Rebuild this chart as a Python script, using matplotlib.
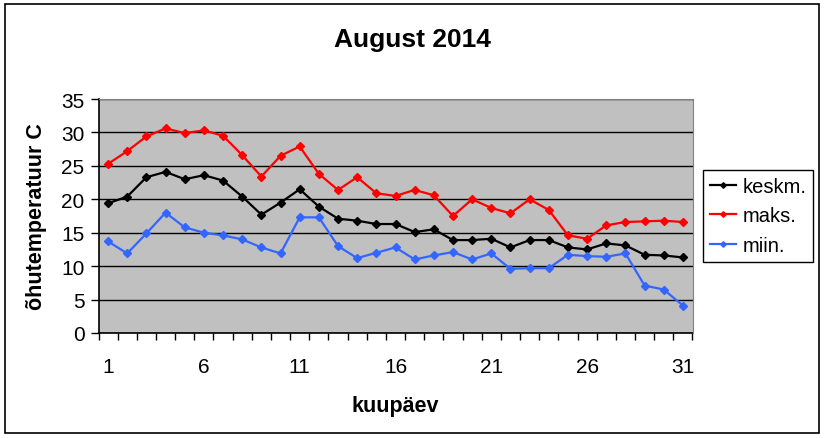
import numpy as np
import matplotlib.pyplot as plt
from matplotlib.patches import Rectangle

plt.rcParams['font.family'] = ['Liberation Sans', 'DejaVu Sans']

paevad = list(range(1, 32))
keskm = [19.4, 20.4, 23.3, 24.1, 23.0, 23.6, 22.8, 20.4, 17.7, 19.5,
         21.5, 18.9, 17.1, 16.8, 16.3, 16.3, 15.1, 15.5, 13.9, 13.9,
         14.1, 12.8, 13.9, 13.9, 12.8, 12.5, 13.4, 13.1, 11.7, 11.6, 11.3]
maks = [25.3, 27.2, 29.4, 30.6, 29.9, 30.3, 29.5, 26.6, 23.4, 26.5,
        27.9, 23.8, 21.4, 23.3, 20.9, 20.5, 21.4, 20.6, 17.5, 20.0,
        18.7, 17.9, 20.0, 18.4, 14.6, 14.1, 16.1, 16.6, 16.7, 16.8, 16.6]
miin = [13.7, 11.9, 14.9, 18.0, 15.8, 15.0, 14.6, 14.0, 12.8, 11.9,
        17.3, 17.3, 13.0, 11.2, 12.0, 12.8, 11.0, 11.6, 12.1, 11.0,
        11.9, 9.6, 9.7, 9.7, 11.7, 11.5, 11.4, 11.9, 7.1, 6.5, 4.1]
x_sildid = [1, 6, 11, 16, 21, 26, 31]
y_sildid = [0, 5, 10, 15, 20, 25, 30, 35]

W, H = 825, 439
fig = plt.figure(figsize=(W / 100, H / 100), dpi=100)
fig.patch.set_facecolor('white')

# raam ümber kogu pildi
fig.patches.append(Rectangle((5 / W, 5 / H), 814 / W, 429 / H, transform=fig.transFigure,
                             fill=False, edgecolor='black', linewidth=1.2))

ax = fig.add_axes([98.5 / W, (H - 334) / H, 594 / W, 234 / H])
ax.set_facecolor('#C0C0C0')

ax.plot(paevad, keskm, color='black', marker='D', markersize=4, linewidth=1.6, label='keskm.')
ax.plot(paevad, maks, color='#FF0000', marker='D', markersize=4, linewidth=1.6, label='maks.')
ax.plot(paevad, miin, color='#3366FF', marker='D', markersize=4, linewidth=1.6, label='miin.')

ax.set_xlim(0.5, 31.5)
ax.set_ylim(0, 35)
ax.set_yticks(y_sildid)
ax.yaxis.grid(True, color='black', linewidth=1)
ax.set_axisbelow(True)

ax.set_xticks(x_sildid)
ax.set_xticks(np.arange(0.5, 32, 1), minor=True)
ax.tick_params(axis='x', which='major', length=0, pad=17, labelsize=15)
ax.tick_params(axis='x', which='minor', length=5, direction='out', width=1)
ax.tick_params(axis='y', length=6, direction='out', width=1, labelsize=15, pad=4)

for s in ['top', 'right']:
    ax.spines[s].set_color('#808080')
for s in ['left', 'bottom']:
    ax.spines[s].set_color('black')
    ax.spines[s].set_linewidth(1.2)

ax.set_ylabel('õhutemperatuur C', fontsize=15.5, fontweight='bold', labelpad=10)
fig.text(395 / W, 1 - 412 / H, 'kuupäev', ha='center', va='baseline', fontsize=15.5, fontweight='bold')
fig.text(412 / W, 1 - 47.3 / H, 'August 2014', ha='center', va='baseline', fontsize=19, fontweight='bold')

leg = fig.legend(loc='center left', bbox_to_anchor=(703 / W, 1 - 217 / H), fontsize=14.5,
                 frameon=True, fancybox=False, edgecolor='black', framealpha=1,
                 handlelength=1.3, handletextpad=0.3, borderpad=0.35, labelspacing=0.5,
                 borderaxespad=0, markerscale=0.7)
leg.get_frame().set_linewidth(1)

fig.savefig('out.png', dpi=100)
